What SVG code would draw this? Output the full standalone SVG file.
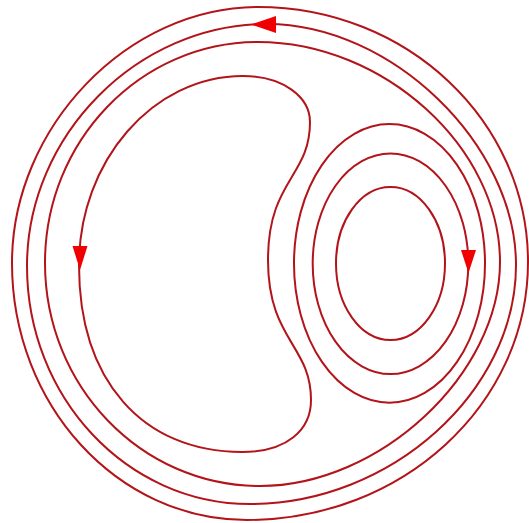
<svg xmlns="http://www.w3.org/2000/svg" width="529" height="523" viewBox="0 0 529 523">
  <style>
    .line { fill: none; stroke: #b3141a; stroke-width: 2; }
    .head { fill: #f00000; stroke: none; }
  </style>
  <rect width="529" height="523" fill="#ffffff"/>
  <g id="streamlines">
    <path id="outer-1" class="line" d="M258,7 C407.1,7 528,121.2 528,262 C528,404.5 402.2,520 247,520 C117.2,520 12,404.9 12,263 C12,127.3 127.6,7 258,7 Z"/>
    <path id="outer-2" class="line" d="M267,24 C391.5,24 516,144.5 516,265 C516,391.7 391,504 250,504 C126.8,504 27,397.4 27,266 C27,135.3 137.4,24 267,24 Z"/>
    <path id="outer-3" class="line" d="M258,42 C383.8,42 500,147.6 500,262 C500,374 380,486 260,486 C141.3,486 45,386.2 45,263 C45,140.9 140.4,42 258,42 Z"/>
    <path id="kidney" class="line" d="M243,76 C283,76 310,97 310,122 C310,177 268,180 268,260 C268,340 311,345 311,400 C311,430 287,452 242,452 C142,452 79,380 79,265 C79,161 153,76 243,76 Z"/>
    <ellipse id="vortex-3" class="line" cx="389.5" cy="263.4" rx="95.5" ry="139.3"/>
    <ellipse id="vortex-2" class="line" cx="390.5" cy="263.7" rx="77.8" ry="110.3"/>
    <ellipse id="vortex-1" class="line" cx="390.5" cy="263.5" rx="54.5" ry="76.5"/>
  </g>
  <g id="arrowheads">
    <polygon class="head" points="251,24.5 276,16 276,33"/>
    <polygon class="head" points="72.5,246 87.5,246 80,270"/>
    <polygon class="head" points="461,250 476,250 468.5,273"/>
  </g>
</svg>
